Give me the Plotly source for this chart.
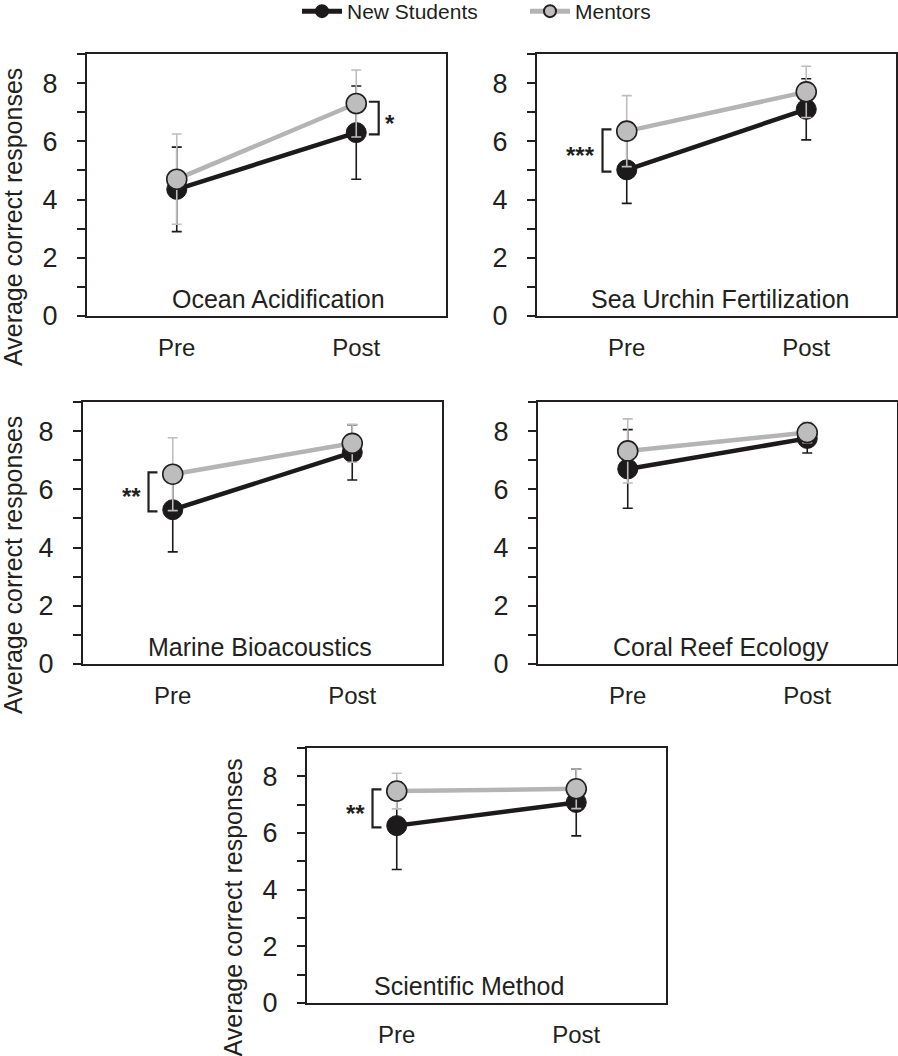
import plotly.graph_objects as go

# ---------------- data ----------------
panels = ["Ocean Acidification", "Sea Urchin Fertilization", "Marine Bioacoustics",
          "Coral Reef Ecology", "Scientific Method"]
timepoints = ["Pre", "Post"]

students_mean = [[4.35, 6.30], [5.02, 7.10], [5.30, 7.27], [6.70, 7.75], [6.26, 7.08]]
students_err  = [[1.45, 1.60], [1.15, 1.05], [1.45, 0.95], [1.35, 0.50], [1.55, 1.18]]
mentors_mean  = [[4.70, 7.30], [6.35, 7.70], [6.52, 7.58], [7.32, 7.95], [7.48, 7.56]]
mentors_err   = [[1.55, 1.15], [1.22, 0.88], [1.25, 0.65], [1.10, 0.35], [0.63, 0.70]]

# significance: (timepoint index, label) or None
significance = [(1, "*"), (0, "***"), (0, "**"), None, (0, "**")]

y_ticks = [0, 2, 4, 6, 8]
y_title = "Average correct responses"

# ---------------- layout geometry (pixels of 898x1056 page) ----------------
W, H = 898, 1056
frames = [  # (left, right, top, bottom)
    (87, 446, 54, 316),
    (537, 896, 54, 316),
    (83, 442, 402, 664),
    (538, 897, 402, 664),
    (307, 666, 748, 1003),
]
title_xpos = [0.533, 0.51, 0.493, 0.509, 0.451]
ytitle_x = [13, None, 13, None, 232]   # pixel centre of y title, None = no title

DARK = "#231f20"
STUDENT = "#1c1a1b"
MENTOR_LINE = "#b4b4b4"
MENTOR_FILL = "#bdbdbd"
FONT = "Liberation Sans, Arial, sans-serif"

fig = go.Figure()
x_idx = list(range(len(timepoints)))

for i, name in enumerate(panels):
    ax = "" if i == 0 else str(i + 1)
    xa, ya = "x" + ax, "y" + ax
    fig.add_trace(go.Scatter(
        x=x_idx, y=students_mean[i], xaxis=xa, yaxis=ya,
        mode="lines+markers", name="New Students", legend="legend",
        showlegend=(i == 0),
        line=dict(color=STUDENT, width=4.5),
        marker=dict(size=20, color=STUDENT, line=dict(color=STUDENT, width=1)),
        error_y=dict(type="data", array=students_err[i], color=STUDENT,
                     thickness=1.6, width=5),
    ))
    fig.add_trace(go.Scatter(
        x=x_idx, y=mentors_mean[i], xaxis=xa, yaxis=ya,
        mode="lines+markers", name="Mentors", legend="legend2",
        showlegend=(i == 0),
        line=dict(color=MENTOR_LINE, width=4.5),
        marker=dict(size=20, color=MENTOR_FILL, line=dict(color=DARK, width=1.6)),
        error_y=dict(type="data", array=mentors_err[i], color=MENTOR_FILL,
                     thickness=1.6, width=5),
    ))

    l, r, t, b = frames[i]
    xdom = [l / W, r / W]
    ydom = [1 - b / H, 1 - t / H]
    fig.layout["xaxis" + ax] = dict(
        domain=xdom, range=[-0.5, 1.5], anchor=ya,
        tickvals=x_idx, ticktext=timepoints, ticks="",
        showline=True, mirror=True, linecolor=DARK, linewidth=2,
        showgrid=False, zeroline=False, ticklabelstandoff=9,
        tickfont=dict(size=24, color=DARK, family=FONT),
    )
    fig.layout["yaxis" + ax] = dict(
        domain=ydom, range=[0, 9], anchor=xa,
        tickvals=y_ticks, ticks="outside", ticklen=8, tickwidth=2, tickcolor=DARK,
        minor=dict(dtick=1, tick0=0, ticks="outside", ticklen=8, tickwidth=2, tickcolor=DARK),
        showline=True, mirror=True, linecolor=DARK, linewidth=2,
        showgrid=False, zeroline=False, ticklabelstandoff=14,
        tickfont=dict(size=27, color=DARK, family=FONT),
    )
    # y-axis title (placed as rotated annotation, offset down like the original)
    if ytitle_x[i] is not None:
        fig.add_annotation(
            x=ytitle_x[i] / W, y=1 - ((t + b) / 2 + 32) / H, xref="paper", yref="paper",
            text=y_title, textangle=-90, showarrow=False,
            xanchor="center", yanchor="middle",
            font=dict(size=25, color=DARK, family=FONT),
        )
    # panel title
    fig.add_annotation(
        x=title_xpos[i], y=0.065, xref=xa + " domain", yref=ya + " domain",
        text=name, showarrow=False, xanchor="center", yanchor="middle",
        font=dict(size=25, color=DARK, family=FONT),
    )
    # significance bracket
    sig = significance[i]
    if sig is not None:
        k, label = sig
        lo = min(students_mean[i][k], mentors_mean[i][k]) - 0.06
        hi = max(students_mean[i][k], mentors_mean[i][k]) + 0.06
        if k == 0:
            xv, xa_end = k - 0.135, k - 0.085
            txt_anchor, shift = "right", -6
        else:
            xv, xa_end = k + 0.125, k + 0.07
            txt_anchor, shift = "left", 4
        path = f"M {xa_end},{hi} L {xv},{hi} L {xv},{lo} L {xa_end},{lo}"
        fig.add_shape(type="path", path=path, xref=xa, yref=ya,
                      line=dict(color=DARK, width=2.2))
        fig.add_annotation(
            x=xv, y=(lo + hi) / 2, xref=xa, yref=ya, text="<b>" + label + "</b>",
            showarrow=False, xanchor=txt_anchor, yanchor="middle", xshift=shift,
            yshift=-5, font=dict(size=24, color=DARK, family=FONT),
        )

legend_common = dict(orientation="h", xanchor="left", y=1.0 + 9 / H, yanchor="top",
                     font=dict(size=21, color=DARK, family=FONT),
                     itemsizing="constant", itemwidth=40,
                     bgcolor="rgba(0,0,0,0)", borderwidth=0)

fig.update_layout(
    width=W, height=H,
    margin=dict(l=0, r=0, t=0, b=0, autoexpand=False),
    paper_bgcolor="white", plot_bgcolor="white",
    showlegend=True,
    legend=dict(x=297 / W, **legend_common),
    legend2=dict(x=525 / W, **legend_common),
    font=dict(family=FONT, color=DARK),
)

fig.write_html("out.html",
               config={"displayModeBar": False},
               post_script="document.body.style.margin='0px';"
                           "document.body.style.overflow='hidden';")
